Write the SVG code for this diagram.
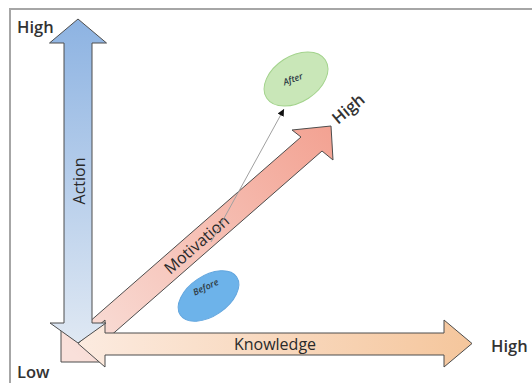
<svg xmlns="http://www.w3.org/2000/svg" width="532" height="383" viewBox="0 0 532 383">
<defs>
<linearGradient id="gAction" gradientUnits="userSpaceOnUse" x1="0" y1="19" x2="0" y2="343">
<stop offset="0" stop-color="#8db3e2"/>
<stop offset="1" stop-color="#dfe8f3"/>
</linearGradient>
<linearGradient id="gKnow" gradientUnits="userSpaceOnUse" x1="78" y1="0" x2="472" y2="0">
<stop offset="0" stop-color="#fcebe0"/>
<stop offset="1" stop-color="#f5c69c"/>
</linearGradient>
<linearGradient id="gMot" gradientUnits="userSpaceOnUse" x1="70" y1="350" x2="331" y2="126">
<stop offset="0" stop-color="#f9e0da"/>
<stop offset="1" stop-color="#f3a292"/>
</linearGradient>
<marker id="arr" markerWidth="8" markerHeight="8" refX="7" refY="4" orient="auto" markerUnits="userSpaceOnUse">
<path d="M0,0.5 L7,4 L0,7.5 z" fill="#111"/>
</marker>
</defs>
<style>
.ar{stroke:#4d4d4d;stroke-width:1;stroke-linejoin:miter}
.ax{font-family:"Open Sans","Liberation Sans",sans-serif;font-weight:600;font-size:16.5px;fill:#333}
.lb{font-family:"Open Sans","Liberation Sans",sans-serif;font-size:16px;fill:#2a2a2a}
.sm{font-family:"Open Sans","Liberation Sans",sans-serif;font-style:italic;font-weight:600;font-size:9px;fill:#2f3b45}
</style>
<rect x="10" y="9" width="540" height="400" fill="#fff" stroke="#a6a6a6" stroke-width="2"/>
<g id="motivation">
<polygon class="ar" fill="url(#gMot)" points="61,326 80,330 301,137 292,130 331,126 333,160 322,151 100,345 103,362 61,362"/>
<text class="lb" text-anchor="middle" transform="translate(197,245) rotate(-41)" y="5" font-size="16.5">Motivation</text>
</g>
<g id="knowledge">
<polygon class="ar" fill="url(#gKnow)" points="78,343.5 105,320 105,333 444,333 444,320 472,343.5 444,367 444,355 105,355 105,367"/>
<text class="lb" text-anchor="middle" x="275" y="350" font-size="17.5">Knowledge</text>
</g>
<g id="action">
<polygon class="ar" fill="url(#gAction)" points="78,19 106.5,43 92,43 92,323 106,323 78,343 50,323 64,323 64,43 49.5,43"/>
<text class="lb" text-anchor="middle" transform="translate(85,181) rotate(-90)">Action</text>
</g>
<g id="before">
<ellipse cx="208.5" cy="296" rx="34" ry="20" transform="rotate(-34 208.5 296)" fill="#6db3ea" stroke="#63a6de" stroke-width="1"/>
<text class="sm" text-anchor="middle" transform="translate(207,290) rotate(-25)">Before</text>
</g>
<g id="after">
<ellipse cx="296" cy="79" rx="35" ry="23" transform="rotate(-33 296 79)" fill="#c9e7b8" stroke="#a3d38c" stroke-width="1"/>
<text class="sm" text-anchor="middle" transform="translate(294,82) rotate(-20)">After</text>
</g>
<g id="connectors">
<line x1="211" y1="242" x2="284" y2="109" stroke="#a0a0a0" stroke-width="1" marker-end="url(#arr)"/>
</g>
<g id="labels">
<text class="ax" x="17" y="33">High</text>
<text class="ax" x="17" y="378" font-size="16">Low</text>
<text class="ax" x="491" y="352">High</text>
<text class="ax" transform="translate(338,125) rotate(-40)">High</text>
</g>
</svg>
